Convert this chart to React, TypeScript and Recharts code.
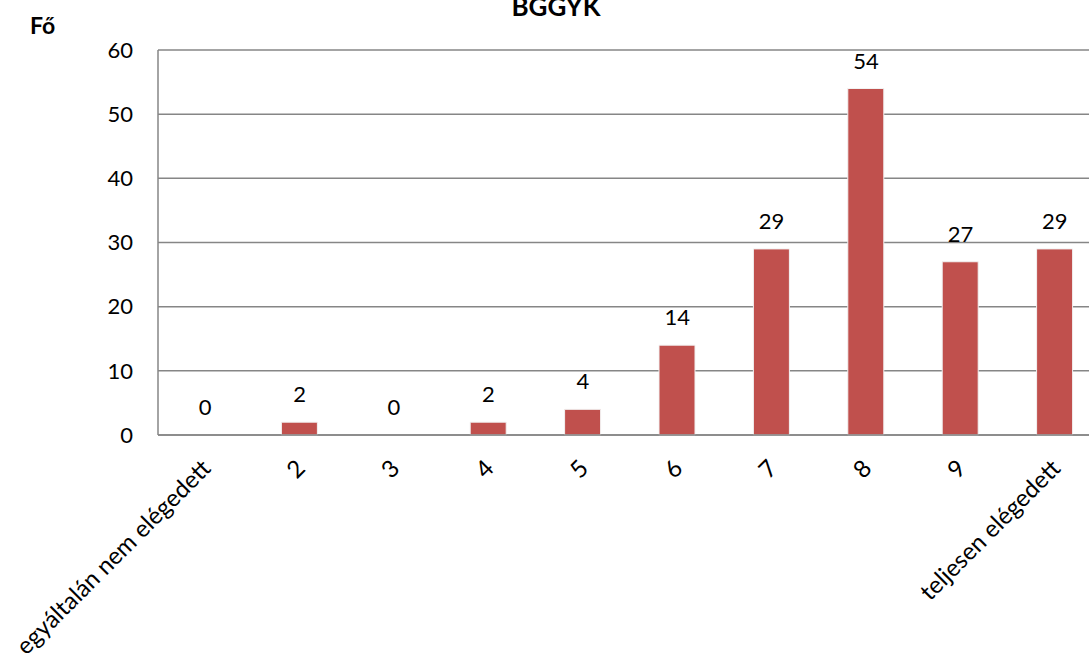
import { ComposedChart, Bar, Line, XAxis, YAxis, CartesianGrid, LabelList } from "recharts";

const categories = ["egyáltalán nem elégedett", "2", "3", "4", "5", "6", "7", "8", "9", "teljesen elégedett"];
const counts = [0, 2, 0, 2, 4, 14, 29, 54, 27, 29];
const yTicks = [0, 10, 20, 30, 40, 50, 60];

const data = categories.map((name, i) => ({ name, value: counts[i] }));

const FONT = "Lato, 'Open Sans', sans-serif";

function RotatedTick(props: any) {
  const { x, y, payload } = props;
  return (
    <g transform={`translate(${x + 7},${y + 27})`}>
      <text textAnchor="end" transform="rotate(-45)" fill="#000" fontSize={24} fontFamily={FONT}>
        {payload.value}
      </text>
    </g>
  );
}

export default function App() {
  return (
    <div style={{ position: "absolute", left: 0, top: 0, width: 1089, height: 664, overflow: "hidden", background: "#fff" }}>
      <div style={{ position: "absolute", left: 0, top: -10, width: 1089, textAlign: "center", paddingLeft: 23, boxSizing: "border-box", fontFamily: FONT, fontWeight: 700, fontSize: 26 }}>
        BGGYK
      </div>
      <div style={{ position: "absolute", left: 30, top: 11, fontFamily: FONT, fontWeight: 700, fontSize: 23 }}>Fő</div>
      <ComposedChart width={1110} height={664} data={data} margin={{ top: 50, right: 8, left: 0, bottom: 0 }} barSize={36}>
        <CartesianGrid vertical={false} stroke="#868686" strokeWidth={1.5} />
        <XAxis
          dataKey="name"
          interval={0}
          height={229}
          tickLine={false}
          axisLine={{ stroke: "#868686", strokeWidth: 1.5 }}
          tick={<RotatedTick />}
        />
        <YAxis
          domain={[0, 60]}
          ticks={yTicks}
          width={158}
          tickLine={false}
          tickSize={0}
          tickMargin={25}
          axisLine={{ stroke: "#868686", strokeWidth: 1.5 }}
          tick={{ fill: "#000", fontSize: 22, fontFamily: FONT }}
        />
        <Bar dataKey="value" fill="#C0504D" stroke="#f2f2f2" strokeWidth={1} isAnimationActive={false} />
        <Line dataKey="value" stroke="none" dot={false} activeDot={false} legendType="none" isAnimationActive={false}>
          <LabelList dataKey="value" position="top" offset={20} fill="#000" fontSize={22} fontFamily={FONT} />
        </Line>
      </ComposedChart>
    </div>
  );
}
